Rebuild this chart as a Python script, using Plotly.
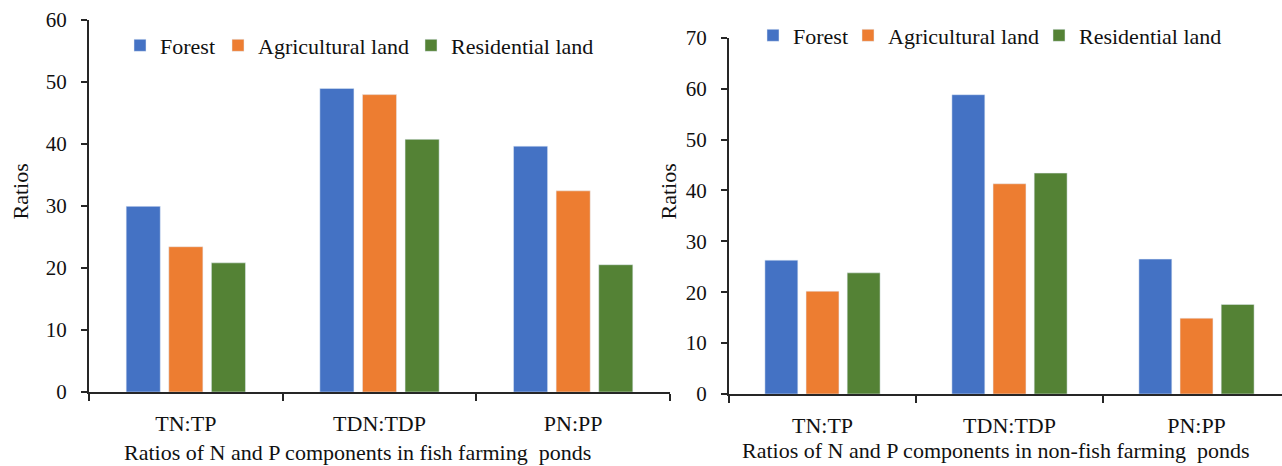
import plotly.graph_objects as go

# Ratio categories and land-use series
categories = ["TN:TP", "TDN:TDP", "PN:PP"]
series_names = ["Forest", "Agricultural land", "Residential land"]
series_colors = ["#4472C4", "#ED7D31", "#548235"]

# Fish farming ponds
fish_forest = [29.9, 48.9, 39.6]
fish_agri = [23.4, 47.9, 32.4]
fish_resid = [20.8, 40.7, 20.5]

# Non-fish farming ponds
nonfish_forest = [26.3, 58.8, 26.5]
nonfish_agri = [20.2, 41.3, 14.9]
nonfish_resid = [23.8, 43.4, 17.6]

FONT = "Liberation Serif"
AXIS_COLOR = "#262626"
TEXT_COLOR = "#111111"

W, H = 1282, 466


def px_x(v):
    return v / W


def px_y(v):
    return 1 - v / H


# Each legend entry gets its own legend box so the keys sit where they belong
left_key_text_x = [156, 254, 447]
right_key_text_x = [789, 884, 1075]

fig = go.Figure()

fish_values = [fish_forest, fish_agri, fish_resid]
nonfish_values = [nonfish_forest, nonfish_agri, nonfish_resid]

legend_boxes = {}
legend_common = dict(orientation="h", xanchor="left", yanchor="middle",
                     font=dict(family=FONT, size=22, color=TEXT_COLOR), itemwidth=30,
                     bgcolor="rgba(0,0,0,0)", borderwidth=0)

for i, (name, color, vals) in enumerate(zip(series_names, series_colors, fish_values)):
    key = "legend" if i == 0 else f"legend{i + 1}"
    fig.add_trace(go.Bar(x=categories, y=vals, name=name, marker_color=color,
                         xaxis="x", yaxis="y", legend=key))
    legend_boxes[key] = dict(legend_common, x=px_x(left_key_text_x[i] - 36), y=px_y(45.5))

for i, (name, color, vals) in enumerate(zip(series_names, series_colors, nonfish_values)):
    key = f"legend{i + 4}"
    fig.add_trace(go.Bar(x=categories, y=vals, name=name, marker_color=color,
                         xaxis="x2", yaxis="y2", legend=key))
    legend_boxes[key] = dict(legend_common, x=px_x(right_key_text_x[i] - 36), y=px_y(35.5))

common_x = dict(type="category", showline=True, linecolor=AXIS_COLOR, linewidth=2,
                ticks="outside", tickson="boundaries", ticklen=7, tickwidth=1.5,
                tickcolor=AXIS_COLOR, showgrid=False, zeroline=False,
                tickfont=dict(family=FONT, size=22, color=TEXT_COLOR),
                ticklabelstandoff=11, automargin=False, fixedrange=True)
common_y = dict(showline=True, linecolor=AXIS_COLOR, linewidth=2, ticks="outside",
                ticklen=6, tickwidth=1.5, tickcolor=AXIS_COLOR, showgrid=False,
                zeroline=False, dtick=10, tick0=0,
                tickfont=dict(family=FONT, size=21, color=TEXT_COLOR),
                ticklabelstandoff=10, automargin=False, fixedrange=True)

fig.update_layout(
    width=W, height=H,
    margin=dict(l=0, r=0, t=0, b=0),
    paper_bgcolor="white", plot_bgcolor="white",
    font=dict(family=FONT, color=TEXT_COLOR),
    barmode="group", bargap=0.34, bargroupgap=0.2,
    showlegend=True,
    xaxis=dict(common_x, domain=[px_x(89), px_x(670)], range=[-0.5, 2.5], anchor="y"),
    yaxis=dict(common_y, domain=[px_y(392), px_y(19.5)], range=[0, 60], anchor="x"),
    xaxis2=dict(common_x, domain=[px_x(729), 1.0], range=[-0.5, -0.5 + 553 / 187], anchor="y2"),
    yaxis2=dict(common_y, domain=[px_y(394), px_y(37.7)], range=[0, 70], anchor="x2"),
    annotations=[
        dict(text="Ratios", textangle=-90, x=px_x(20), y=px_y(191.5),
             xanchor="center", yanchor="middle", xref="paper", yref="paper",
             showarrow=False, font=dict(family=FONT, size=22, color=TEXT_COLOR)),
        dict(text="Ratios", textangle=-90, x=px_x(668), y=px_y(191.5),
             xanchor="center", yanchor="middle", xref="paper", yref="paper",
             showarrow=False, font=dict(family=FONT, size=22, color=TEXT_COLOR)),
        dict(text="Ratios of N and P components in fish farming&nbsp; ponds",
             x=px_x(357), y=px_y(452), xanchor="center", yanchor="middle",
             xref="paper", yref="paper", showarrow=False,
             font=dict(family=FONT, size=22, color=TEXT_COLOR)),
        dict(text="Ratios of N and P components in non-fish farming&nbsp; ponds",
             x=px_x(996.5), y=px_y(450), xanchor="center", yanchor="middle",
             xref="paper", yref="paper", showarrow=False,
             font=dict(family=FONT, size=22, color=TEXT_COLOR)),
    ],
    **legend_boxes,
)

fig.write_html("out.html")
